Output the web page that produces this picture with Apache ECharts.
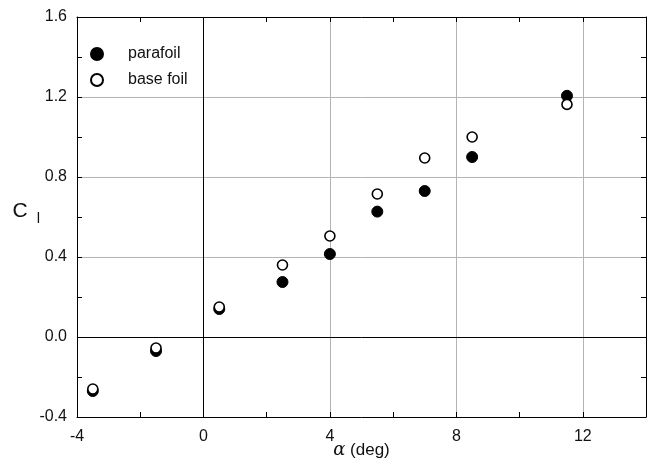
<!DOCTYPE html>
<html>
<head>
<meta charset="utf-8">
<script src="https://cdn.jsdelivr.net/npm/echarts@6/dist/echarts.min.js"></script>
<style>
  html, body { margin: 0; padding: 0; background: #fff; }
  #chart { width: 662px; height: 464px; }
</style>
</head>
<body>
<div id="chart"></div>
<script>
// angle of attack (deg)
const alpha = [-3.5, -1.5, 0.5, 2.5, 4, 5.5, 7, 8.5, 11.5];
// lift coefficient
const clParafoil = [-0.27, -0.07, 0.14, 0.275, 0.415, 0.627, 0.73, 0.90, 1.206];
const clBaseFoil = [-0.26, -0.055, 0.15, 0.36, 0.505, 0.715, 0.895, 1.0, 1.163];

const font = 'Liberation Sans, Arial, sans-serif';

function pairs(xs, ys) {
  return xs.map((x, i) => [x, ys[i]]);
}

function onStep(v, step) {
  return Math.abs(Math.round(v / step) * step - v) < 1e-6;
}

const chart = echarts.init(document.getElementById('chart'));

const blackLine = { show: true, onZero: false, lineStyle: { color: '#000', width: 1 } };
const inTick = { show: true, inside: true, length: 5, lineStyle: { color: '#000' } };

const tickOnly = {
  axisLabel: { show: false },
  axisLine: blackLine,
  axisTick: inTick,
  splitLine: { show: false }
};

const gridOnly = {
  axisLabel: { show: false },
  axisLine: { show: false, onZero: false },
  axisTick: { show: false },
  splitLine: { show: true, lineStyle: { color: '#b4b4b4', width: 1 } }
};

const option = {
  animation: false,
  grid: { left: 77, right: 16, top: 17, bottom: 47, outerBoundsMode: 'none', containLabel: false },
  legend: {
    orient: 'vertical',
    left: 85,
    top: 41,
    itemWidth: 52,
    itemHeight: 12,
    itemGap: 10,
    icon: 'circle',
    textStyle: { fontFamily: font, fontSize: 16, color: '#111' },
    data: ['parafoil', 'base foil']
  },
  xAxis: [
    {
      type: 'value', position: 'bottom', min: -4, max: 14, interval: 2,
      name: '{a|α} (deg)',
      nameLocation: 'middle',
      nameGap: 24,
      nameMoveOverlap: false,
      nameTextStyle: {
        fontFamily: font, fontSize: 17, color: '#111',
        rich: { a: { fontFamily: 'DejaVu Serif, serif', fontStyle: 'italic', fontSize: 18, color: '#111' } }
      },
      axisLabel: {
        margin: 12, fontFamily: font, fontSize: 16, color: '#111',
        formatter: v => (onStep(v, 4) && v < 14 ? String(Math.round(v)) : '')
      },
      axisLine: blackLine,
      axisTick: inTick,
      splitLine: { show: false }
    },
    Object.assign({ type: 'value', position: 'top', min: -4, max: 14, interval: 2 }, tickOnly),
    Object.assign({ type: 'value', position: 'bottom', min: -4, max: 14, interval: 4 }, gridOnly)
  ],
  yAxis: [
    {
      type: 'value', position: 'left', min: -0.4, max: 1.6, interval: 0.2,
      name: 'C{s|l}',
      nameLocation: 'middle',
      nameRotate: 0,
      nameGap: 37,
      nameMoveOverlap: false,
      nameTextStyle: {
        fontFamily: font, fontSize: 21, color: '#111', padding: [0, 0, 12, 0],
        rich: { s: { fontFamily: font, fontSize: 15, color: '#111', padding: [16, 0, 0, 9] } }
      },
      axisLabel: {
        margin: 10, fontFamily: font, fontSize: 16, color: '#111',
        formatter: v => (onStep(v, 0.4) ? v.toFixed(1) : '')
      },
      axisLine: blackLine,
      axisTick: inTick,
      splitLine: { show: false }
    },
    Object.assign({ type: 'value', position: 'right', min: -0.4, max: 1.6, interval: 0.2 }, tickOnly),
    Object.assign({ type: 'value', position: 'left', min: -0.4, max: 1.6, interval: 0.4 }, gridOnly)
  ],
  series: [
    {
      name: 'parafoil',
      type: 'scatter',
      xAxisIndex: 0, yAxisIndex: 0,
      symbol: 'circle',
      symbolSize: 11,
      itemStyle: { color: '#000', borderColor: '#000', borderWidth: 1, opacity: 1 },
      data: pairs(alpha, clParafoil),
      markLine: {
        silent: true,
        symbol: 'none',
        label: { show: false },
        lineStyle: { color: '#000', width: 1, type: 'solid' },
        data: [{ xAxis: 0 }, { yAxis: 0 }]
      }
    },
    {
      name: 'base foil',
      type: 'scatter',
      xAxisIndex: 0, yAxisIndex: 0,
      symbol: 'circle',
      symbolSize: 10,
      itemStyle: { color: '#fff', borderColor: '#000', borderWidth: 1.6, opacity: 1 },
      data: pairs(alpha, clBaseFoil)
    }
  ]
};

chart.setOption(option);
</script>
</body>
</html>
